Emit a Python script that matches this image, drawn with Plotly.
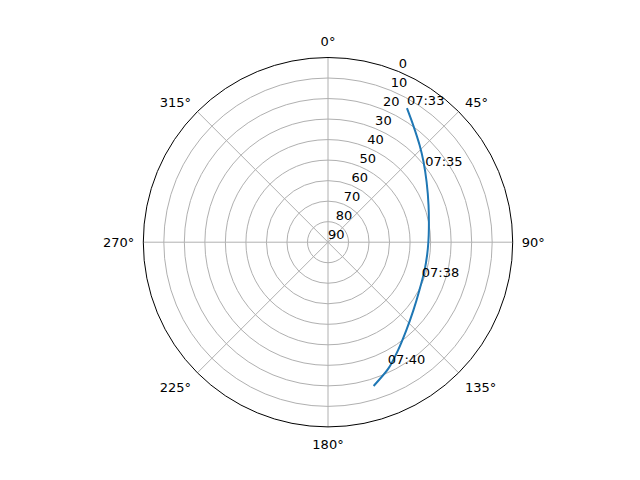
import plotly.graph_objects as go

# satellite pass: azimuth (deg) and elevation (deg)
azimuth = [30.5, 36.1, 43.4, 50.0, 58.6, 69.8, 82.3, 90.0, 97.5, 106.1, 117.7, 128.5, 138.3, 147.0, 154.4, 162.4]
elevation = [14.2, 19.5, 25.0, 29.2, 33.7, 37.8, 40.4, 41.1, 41.3, 41.0, 39.7, 36.8, 32.6, 27.3, 21.8, 16.5]

label_times = ["07:33", "07:35", "07:38", "07:40"]
label_az = [30.5, 53.1, 112.0, 154.4]
label_el = [14.2, 30.8, 40.7, 22.5]

angle_ticks = [0, 45, 90, 135, 180, 225, 270, 315]
angle_labels = [f"{a}°" for a in angle_ticks]
elev_ticks = [0, 10, 20, 30, 40, 50, 60, 70, 80, 90]
elev_label_angle = 22.5

r_track = [90 - e for e in elevation]
r_labels = [90 - e for e in label_el]
r_ticks = [90 - e for e in elev_ticks]

font = dict(family="DejaVu Sans", size=13, color="black")

fig = go.Figure()
fig.add_trace(go.Scatterpolar(
    r=r_track, theta=azimuth, mode="lines",
    line=dict(color="#1f77b4", width=2, shape="spline", smoothing=0.8),
    showlegend=False, hoverinfo="skip",
))
fig.add_trace(go.Scatterpolar(
    r=r_labels, theta=label_az, mode="text", text=label_times,
    textposition="top right", textfont=font,
    showlegend=False, hoverinfo="skip",
))
# radial (elevation) tick labels, matplotlib style
fig.add_trace(go.Scatterpolar(
    r=r_ticks, theta=[elev_label_angle] * len(r_ticks), mode="text",
    text=[str(e) for e in elev_ticks],
    textposition="top right", textfont=font, cliponaxis=False,
    showlegend=False, hoverinfo="skip",
))

cx, cy, R = 320.0, 234.2, 184.7
W, H = 640, 480
fig.update_layout(
    width=W, height=H,
    margin=dict(l=0, r=0, t=0, b=0),
    paper_bgcolor="white",
    font=font,
    polar=dict(
        bgcolor="white",
        domain=dict(x=[(cx - R) / W, (cx + R) / W],
                    y=[(H - cy - R) / H, (H - cy + R) / H]),
        angularaxis=dict(
            direction="clockwise", rotation=90,
            tickmode="array", tickvals=angle_ticks, ticktext=angle_labels,
            ticks="outside", ticklen=6, tickcolor="rgba(0,0,0,0)",
            showline=True, linecolor="black", linewidth=1,
            gridcolor="#b0b0b0", gridwidth=1, tickfont=font,
        ),
        radialaxis=dict(
            range=[0, 90], angle=67.5,
            tickmode="array", tickvals=r_ticks,
            showticklabels=False,
            ticks="", showline=False, gridcolor="#b0b0b0", gridwidth=1,
        ),
    ),
)

fig.write_html("out.html")
